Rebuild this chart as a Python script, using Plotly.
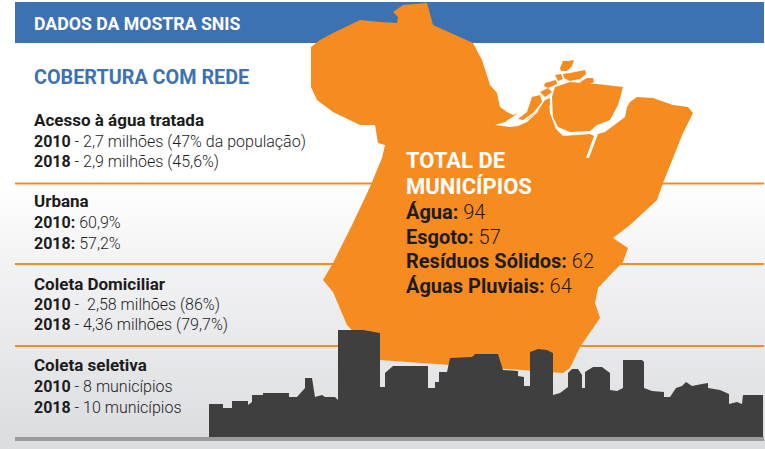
import plotly.graph_objects as go

# text of the left column, one list per block
agua_lines = ["<b>Acesso à água tratada</b>",
              "<b>2010</b> - 2,7 milhões (47% da população)",
              "<b>2018</b> - 2,9 milhões (45,6%)"]
urbana_lines = ["<b>Urbana</b>", "<b>2010:</b> 60,9%", "<b>2018:</b> 57,2%"]
coleta_lines = ["<b>Coleta Domiciliar</b>",
                "<b>2010</b> -  2,58 milhões (86%)",
                "<b>2018</b> - 4,36 milhões (79,7%)"]
seletiva_lines = ["<b>Coleta seletiva</b>",
                  "<b>2010</b> - 8 municípios",
                  "<b>2018</b> - 10 municípios"]
total_lines = ["<b>Água:</b> 94", "<b>Esgoto:</b> 57",
               "<b>Resíduos Sólidos:</b> 62", "<b>Águas Pluviais:</b> 64"]

BODY_FONT = "Roboto"
ORANGE = "#f68b1f"
BLUE = "#3d72b2"
DARK = "#3f3f3f"
INK = "#1c1c1c"

# background fade of the panel
fade_y = [184, 264, 346, 437]
fade_grey = [255, 242, 232, 220]

divider_y = [183.5, 264, 346]

# Pará outline, mainland with the river mouth cut in
map_x = [380, 397, 398, 393, 403, 427, 433, 455, 473, 482, 490, 497, 500, 507, 513, 518,
         510, 505, 495, 510, 518, 527, 537, 545, 549, 550, 556, 563, 580, 590, 594, 586,
         589, 598, 605, 618, 625, 627, 630, 637, 653, 673, 688, 693, 683, 663, 657, 630,
         613, 628, 623, 613, 598, 595, 600, 580, 570, 563, 380, 347, 333, 323, 333, 352,
         370, 379, 382, 385, 378, 375, 360, 333, 317, 311, 311, 320, 333, 360, 380]
map_y = [22, 23, 17, 12, 5, 3, 25, 35, 43, 60, 85, 93, 107, 112, 115, 113,
         119, 122, 125, 127, 126, 122, 113, 105, 100, 113, 129, 136, 135, 134, 136, 158,
         158, 134, 132, 122, 117, 107, 102, 97, 98, 105, 107, 113, 133, 183, 200, 225,
         238, 248, 262, 272, 288, 303, 318, 347, 368, 373, 360, 325, 292, 280, 263, 225,
         187, 165, 158, 145, 143, 125, 125, 112, 100, 87, 47, 40, 33, 20, 22]

# islands at the river mouth
islands = [
    ([555, 570, 582, 597, 623, 618, 610, 597, 590, 570, 558, 553, 552],
     [87, 82, 83, 84, 87, 105, 120, 125, 131, 132, 127, 117, 97]),
    ([518, 527, 532, 540, 542, 533, 523], [119, 112, 97, 95, 102, 113, 120]),
    ([525, 537, 545, 550, 550, 540, 530], [121, 112, 100, 98, 105, 110, 118]),
    ([540, 548, 552, 545], [92, 88, 92, 97]),
    ([545, 556, 557, 548, 544], [83, 80, 84, 88, 86]),
    ([555, 561, 563, 558], [75, 74, 79, 81]),
    ([560, 563, 568, 574, 572, 567, 561], [68, 61, 61, 60, 66, 71, 71]),
    ([563, 570, 585, 586, 580, 570, 564], [74, 73, 70, 74, 79, 81, 78]),
    ([580, 587, 593, 594, 590, 582], [82, 78, 78, 82, 84, 84]),
]

skyline_x = [209, 223, 223, 232, 232, 248, 248, 252, 252, 263, 263, 289, 289, 297, 305, 305,
             312, 315, 322, 325, 335, 338, 338, 363, 380, 380, 385, 385, 393, 428, 428, 435,
             435, 439, 439, 447, 450, 472, 475, 498, 503, 518, 518, 524, 524, 530, 530, 538,
             547, 553, 553, 560, 568, 568, 572, 578, 582, 582, 585, 585, 593, 602, 610, 610,
             617, 623, 623, 642, 644, 644, 652, 664, 664, 670, 676, 682, 686, 692, 702, 708,
             708, 720, 729, 729, 737, 742, 743, 763, 763, 209]
skyline_y = [404, 404, 408, 408, 401, 401, 405, 402, 395, 395, 393, 393, 397, 397, 388, 378,
             378, 397, 395, 397, 397, 400, 330, 330, 333, 387, 387, 373, 366, 366, 388, 388,
             382, 382, 372, 372, 358, 357, 354, 354, 370, 371, 376, 377, 386, 386, 352, 349,
             350, 353, 395, 393, 387, 373, 369, 369, 375, 388, 388, 372, 367, 367, 373, 390,
             391, 388, 360, 360, 362, 388, 391, 392, 397, 397, 388, 386, 382, 386, 384, 383,
             388, 390, 394, 404, 402, 404, 395, 395, 437, 437]


def polygon(xs, ys, color):
    return go.Scatter(x=xs, y=ys, mode="lines", fill="toself", fillcolor=color,
                      line=dict(width=0, color=color), hoverinfo="skip", showlegend=False)


def label(x, y, text, size, color=INK, weight=300):
    return dict(x=x, y=y, text=text, xref="x", yref="y", showarrow=False,
                xanchor="left", yanchor="middle", borderpad=0,
                font=dict(family=BODY_FONT, size=size, color=color, weight=weight))


fig = go.Figure()

fig.add_trace(go.Heatmap(x=[15, 764], y=fade_y, z=[[g, g] for g in fade_grey], zsmooth="best",
                         colorscale=[[0, "rgb(220,221,224)"], [1, "rgb(255,255,255)"]],
                         showscale=False, hoverinfo="skip"))
for y in divider_y:
    fig.add_trace(go.Scatter(x=[15, 764], y=[y, y], mode="lines",
                             line=dict(color=ORANGE, width=2),
                             hoverinfo="skip", showlegend=False))
fig.add_trace(polygon([15, 764, 764, 15], [2, 2, 43, 43], BLUE))
fig.add_trace(polygon(map_x, map_y, ORANGE))
for xs, ys in islands:
    fig.add_trace(polygon(xs, ys, ORANGE))
fig.add_trace(polygon([15, 764, 764, 15], [437, 437, 441, 441], "#9b9b9b"))
fig.add_trace(polygon(skyline_x, skyline_y, DARK))

notes = [
    label(33, 24, "<b>DADOS DA MOSTRA SNIS</b>", 17.7, "white", 700),
    label(33, 77, "<b>COBERTURA COM REDE</b>", 19.8, BLUE, 700),
    label(405, 160, "<b>TOTAL DE</b>", 22, "white", 700),
    label(405, 186, "<b>MUNICÍPIOS</b>", 22, "white", 700),
]
for lines, ys in [(agua_lines, [120, 141, 161]), (urbana_lines, [201, 222, 243]),
                  (coleta_lines, [284, 304, 324]), (seletiva_lines, [365, 386, 407])]:
    for i, (line, y) in enumerate(zip(lines, ys)):
        notes.append(label(33, y, line, 17 if i == 0 else 16))
for line, y in zip(total_lines, [212, 237, 261, 286]):
    notes.append(label(405, y, line, 20))

fig.update_layout(
    width=765, height=449, margin=dict(l=0, r=0, t=0, b=0),
    paper_bgcolor="white", plot_bgcolor="white",
    xaxis=dict(range=[0, 765], visible=False, fixedrange=True),
    yaxis=dict(range=[449, 0], visible=False, fixedrange=True),
    annotations=notes, showlegend=False,
)
fig.write_html("out.html", config={"displayModeBar": False},
               post_script="document.body.style.margin='0';")
